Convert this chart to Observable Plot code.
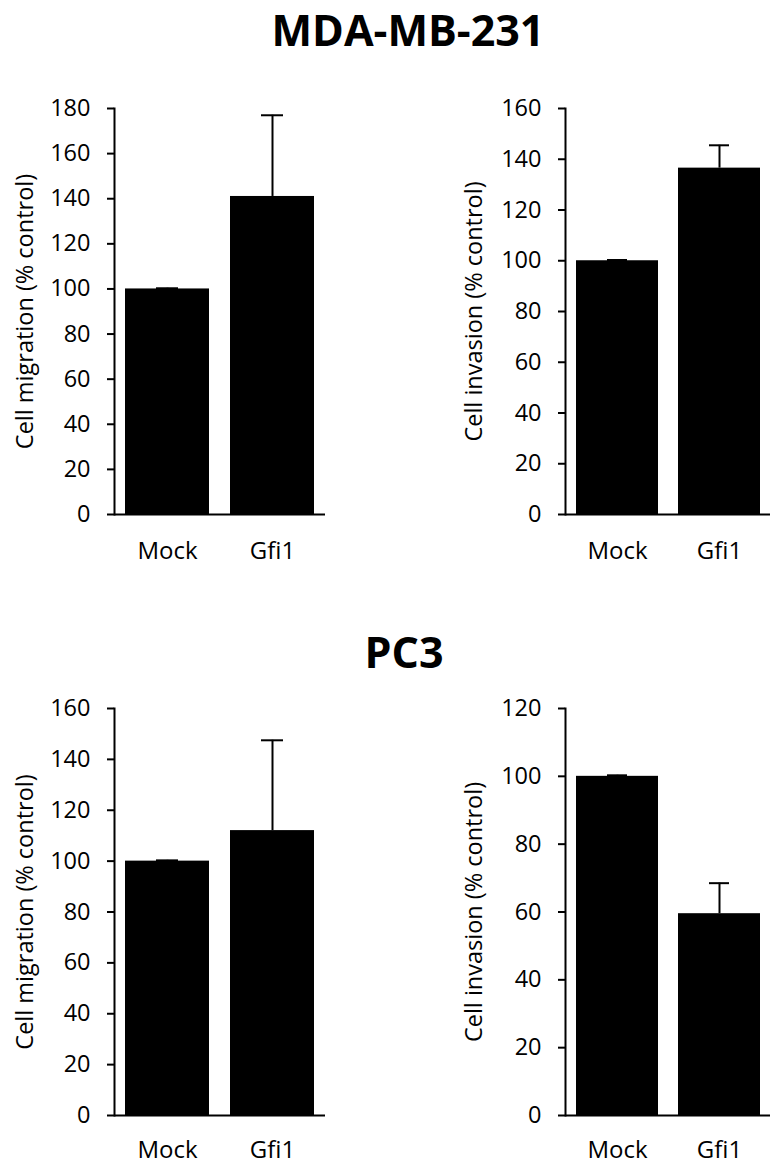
<!DOCTYPE html>
<html>
<head>
<meta charset="utf-8">
<script src="https://cdn.jsdelivr.net/npm/d3@7"></script>
<script src="https://cdn.jsdelivr.net/npm/@observablehq/plot@0.6"></script>
<style>
  html, body { margin: 0; padding: 0; background: #fff; }
  #root { position: relative; width: 771px; height: 1165px; background: #fff; overflow: hidden; }
  .title { position: absolute; font-family: "Open Sans", sans-serif; font-weight: bold; font-size: 43px; color: #000; text-align: center; width: 400px; line-height: normal; }
  .panel { position: absolute; }
</style>
</head>
<body>
<div id="root">
  <div class="title" style="left:208px; top:0px;">MDA-MB-231</div>
  <div class="title" style="left:204px; top:622px;">PC3</div>
  <div class="panel" id="p1" style="left:0px; top:80px;"></div>
  <div class="panel" id="p2" style="left:440px; top:80px;"></div>
  <div class="panel" id="p3" style="left:0px; top:690px;"></div>
  <div class="panel" id="p4" style="left:440px; top:690px;"></div>
</div>
<script>
const categories = ["Mock", "Gfi1"];

const mdaMigration = [100, 141];
const mdaMigrationErr = [0.3, 36];
const mdaInvasion = [100, 136.5];
const mdaInvasionErr = [0.3, 9];
const pc3Migration = [100, 112];
const pc3MigrationErr = [0.3, 35.5];
const pc3Invasion = [100, 59.5];
const pc3InvasionErr = [0.3, 9];

const yMaxes = [180, 160, 160, 120];
const yLabels = ["Cell migration (% control)", "Cell invasion (% control)", "Cell migration (% control)", "Cell invasion (% control)"];

function panel(values, errs, yMax, label, geom) {
  const data = categories.map((c, i) => ({cat: c, value: values[i], err: errs[i]}));
  const ticks = d3.range(0, yMax + 1, 20);
  return Plot.plot({
    width: geom.width,
    height: geom.height,
    marginLeft: geom.marginLeft,
    marginRight: geom.marginRight,
    marginTop: geom.marginTop,
    marginBottom: geom.marginBottom,
    style: {fontFamily: "Open Sans, sans-serif", fontSize: "23px", color: "#000", background: "white", overflow: "visible"},
    x: {domain: categories, paddingInner: 0.2, paddingOuter: 0.1},
    y: {domain: [0, yMax]},
    marks: [
      Plot.barY(data, {x: "cat", y: "value", fill: "black"}),
      Plot.ruleX(data, {x: "cat", y1: "value", y2: d => d.value + d.err, stroke: "black", strokeWidth: 2}),
      Plot.tickY(data, {x: "cat", y: d => d.value + d.err, stroke: "black", strokeWidth: 2, insetLeft: 31, insetRight: 31}),
      Plot.axisY({ticks, tickSize: 7, tickPadding: 17, strokeWidth: 2, label: null, fontSize: 23.5}),
      Plot.axisY({ticks: [], tickSize: 0, label, labelAnchor: "center", labelArrow: "none", labelOffset: geom.labelOffset, fontSize: 23.5}),
      Plot.axisX({tickSize: 0, tickPadding: geom.xPad, label: null, fontSize: 24}),
      Plot.ruleY([0], {stroke: "black", strokeWidth: 2}),
      Plot.frame({anchor: "left", stroke: "black", strokeWidth: 2})
    ]
  });
}

const topGeom = {height: 500, marginTop: 28, marginBottom: 66, xPad: 27};
const botGeom = {height: 475, marginTop: 18, marginBottom: 50, xPad: 25};
const leftGeom = {width: 330, marginLeft: 114, marginRight: 5, labelOffset: 98};
const rightGeom = {width: 331, marginLeft: 125, marginRight: 1, labelOffset: 100};

document.getElementById("p1").append(panel(mdaMigration, mdaMigrationErr, yMaxes[0], yLabels[0], {...topGeom, ...leftGeom}));
document.getElementById("p2").append(panel(mdaInvasion, mdaInvasionErr, yMaxes[1], yLabels[1], {...topGeom, ...rightGeom}));
document.getElementById("p3").append(panel(pc3Migration, pc3MigrationErr, yMaxes[2], yLabels[2], {...botGeom, ...leftGeom}));
document.getElementById("p4").append(panel(pc3Invasion, pc3InvasionErr, yMaxes[3], yLabels[3], {...botGeom, ...rightGeom}));
</script>
</body>
</html>
